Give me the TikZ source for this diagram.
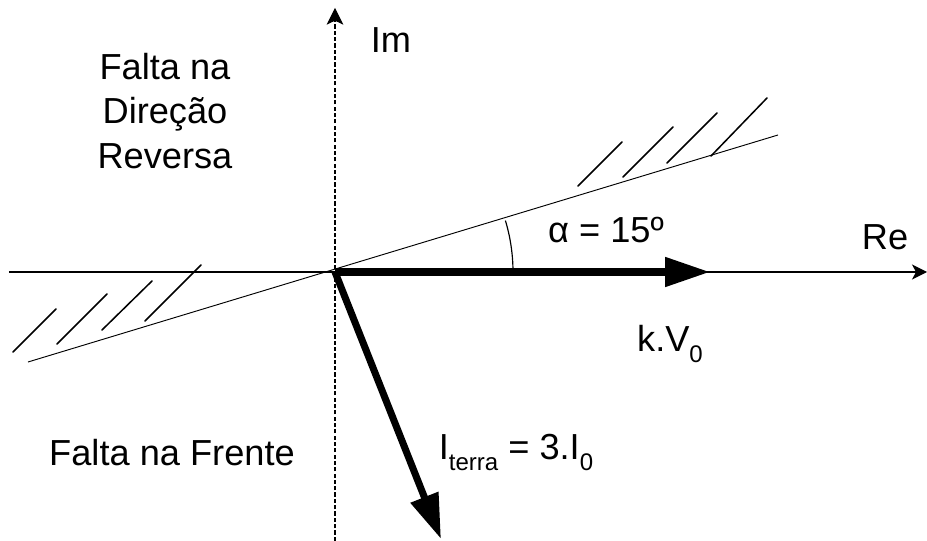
\documentclass[tikz,border=0pt]{standalone}
\usepackage{fontspec}
\setmainfont{Liberation Sans}
\usetikzlibrary{arrows.meta,positioning,calc}
\newcommand{\subidx}[1]{\raisebox{-0.28em}{\fontsize{20.5}{24}\selectfont #1}}

\begin{document}
\begin{tikzpicture}[x=0.03cm, y=0.03cm,
    font=\fontsize{30.9}{38}\selectfont,
    axisline/.style={line width=1.1pt},
    hatch/.style={line width=1.3pt, line cap=round},
    phasor/.style={line width=6pt, -{Triangle[length=1.35cm, width=0.85cm]}}]
  \useasboundingbox (-335,-269) rectangle (592,272);
  % Axes
  \coordinate (O) at (0,0);
  \coordinate (reL) at (-326,0);
  \coordinate (reR) at (592,0);
  \coordinate (imB) at (0,-269);
  \coordinate (imT) at (0,264);
  \draw[axisline, -{Stealth[length=0.45cm, width=0.45cm, inset=0.12cm]}] (reL) -- (reR);
  \draw[line width=0.9pt, dash pattern=on 3.6pt off 1.8pt,
        -{Stealth[length=0.5cm, width=0.5cm, inset=0.12cm]}] (imB) -- (imT);
  % Boundary line and angle
  \coordinate (bL) at (-307,-90);
  \coordinate (bR) at (443,137);
  \draw[line width=0.8pt] (bL) -- (bR);
  \draw[line width=1pt] ($(O)+(178,0)$) arc[start angle=0, end angle=16.8, radius=178];
  % Hatching
  \foreach \x/\y/\u/\v in {-322/-80/-279/-37, -278/-72/-228/-22,
                           -233/-58/-183/-9, -190/-49/-134/7,
                           243/86/287/130, 288/95/338/145,
                           332/109/382/159, 376/116/432/174}{
    \draw[hatch] (\x,\y) -- (\u,\v);
  }
  % Phasors
  \coordinate (kvTip) at (375,0);
  \coordinate (itTip) at (106,-267);
  \draw[phasor] (O) -- (kvTip);
  \draw[phasor] (O) -- (itTip);
  % Labels
  \node[align=center] (rev) at (-170,161) {Falta na\\Direção\\Reversa};
  \node[anchor=base] (fwd) at (-163,-194) {Falta na Frente};
  \node[anchor=base] (im) at (56,219) {Im};
  \node[anchor=base] (re) at (550,22) {Re};
  \node[anchor=base] (alpha) at (271,29) {α = 15º};
  \node[anchor=base] (kv) at (335,-80) {k.V\subidx{0}};
  \node[anchor=base] (it) at (181,-188) {I\subidx{terra} = 3.I\subidx{0}};
\end{tikzpicture}
\end{document}
